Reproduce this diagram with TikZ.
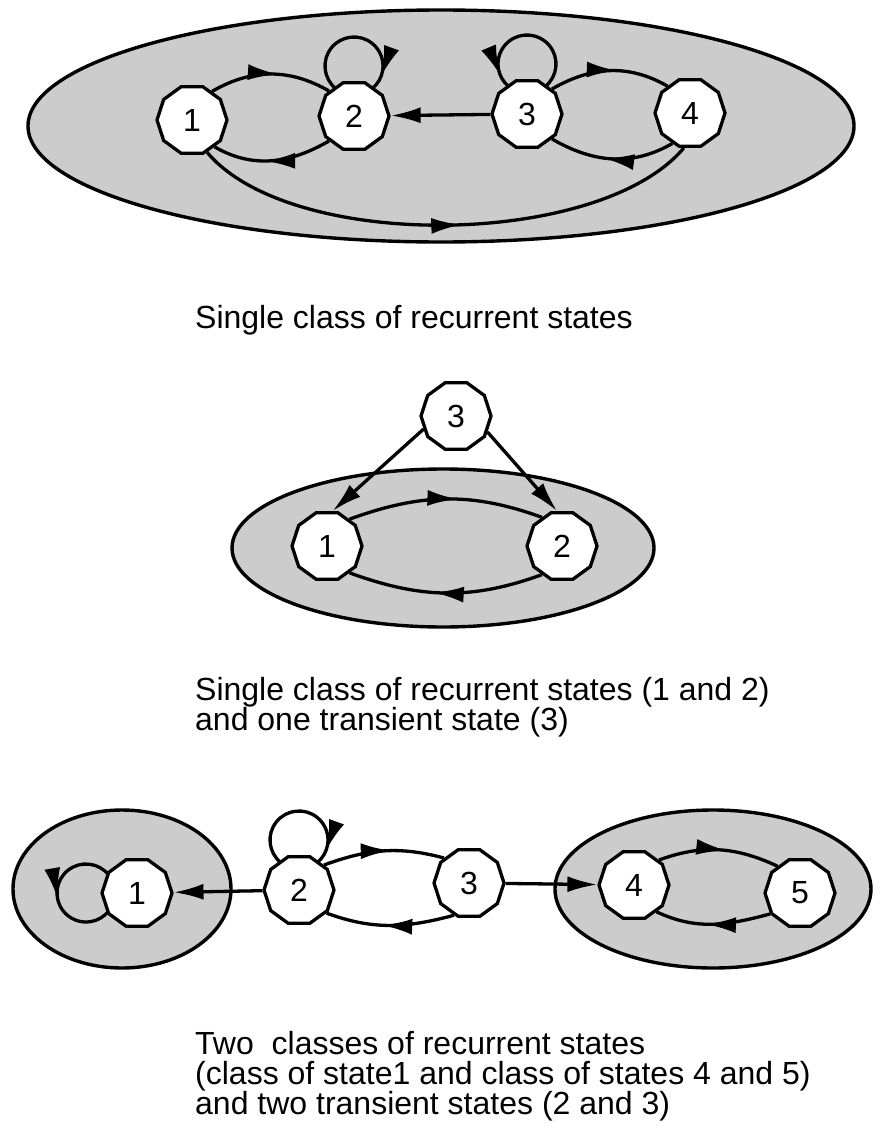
\documentclass[tikz,border=0pt]{standalone}
\usepackage{fontspec}
\setmainfont{Liberation Sans}
\usetikzlibrary{shapes,arrows.meta,positioning,calc,decorations.markings}

\begin{document}
\begin{tikzpicture}[x=1pt,y=1pt,
    stnode/.style={regular polygon, regular polygon sides=10, draw, line width=3.3pt,
        fill=white, minimum size=70pt, inner sep=0pt, font=\fontsize{32}{32}\selectfont},
    cls/.style={draw, line width=3.4pt, fill=black!20},
    trans/.style={line width=3.3pt},
    tip/.style={-{Latex[length=30pt,width=16pt]}},
    midarr/.style={postaction={decorate}, decoration={markings,
        mark=at position #1 with {\arrow{Latex[length=30pt,width=16pt]}}}},
    midarr/.default=0.56,
    caption/.style={anchor=base west, align=left, inner sep=0pt, font=\fontsize{32}{30}\selectfont}]
    \useasboundingbox (0,0) rectangle (894,-1132);

    % Single class of recurrent states
    \draw[cls] (441,-126) ellipse[x radius=413, y radius=116];
    \node[stnode] (a1) at (192,-120) {1};
    \node[stnode] (a2) at (354,-116) {2};
    \node[stnode] (a3) at (527,-114) {3};
    \node[stnode] (a4) at (690,-113) {4};
    \draw[trans,midarr] (a1.55) to[out=30,in=150] (a2.135);
    \draw[trans,midarr] (a2.225) to[out=210,in=-30] (a1.-50);
    \draw[trans,midarr] (a3.45) to[out=30,in=150] (a4.130);
    \draw[trans,midarr] (a4.-120) to[out=210,in=-30] (a3.-45);
    \draw[trans,midarr=0.53] (a1.-65) to[out=-50,in=-130,looseness=0.7] (a4.-100);
    \draw[trans,tip] (a3) -- (a2);
    \draw[trans,midarr=0.89] ([yshift=50]a2.center) ++(231:29) arc[start angle=231,end angle=-51,radius=29];
    \draw[trans,midarr=0.90] ([yshift=50]a3.center) ++(-51:29) arc[start angle=-51,end angle=231,radius=29];
    \node[caption] (cap1) at (195,-328) {Single class of recurrent states};

    % one transient state
    \draw[cls] (443,-548) ellipse[x radius=211, y radius=79];
    \node[stnode] (b1) at (327,-546) {1};
    \node[stnode] (b2) at (562,-546) {2};
    \node[stnode] (b3) at (456,-416) {3};
    \draw[trans,tip] (b3.202) -- (b1.81);
    \draw[trans,tip] (b3.-27) -- (b2.98);
    \draw[trans,midarr] (b1.50) to[out=20,in=160] (b2.125);
    \draw[trans,midarr] (b2.-125) to[out=200,in=-20] (b1.-50);
    \node[caption] (cap2) at (195,-730) {Single class of recurrent states (1 and 2)\\and one transient state (3)};

    % two classes, two transient states
    \draw[cls] (122,-889) ellipse[x radius=109, y radius=79];
    \draw[cls] (713,-889) ellipse[x radius=158, y radius=79];
    \node[stnode] (c1) at (137,-893) {1};
    \node[stnode] (c2) at (299,-890) {2};
    \node[stnode] (c3) at (469,-883) {3};
    \node[stnode] (c4) at (634,-885) {4};
    \node[stnode] (c5) at (800,-893) {5};
    \draw[trans,tip] (c2) -- (c1);
    \draw[trans,tip] (c3) -- (c4);
    \draw[trans,midarr] (c2.45) to[out=20,in=165] (c3.135);
    \draw[trans,midarr] (c3.-115) to[out=195,in=-20] (c2.-40);
    \draw[trans,midarr] (c4.45) to[out=20,in=155] (c5.130);
    \draw[trans,midarr] (c5.215) to[out=195,in=-25] (c4.-50);
    \draw[trans,midarr=0.89] ([yshift=50]c2.center) ++(231:29) arc[start angle=231,end angle=-51,radius=29];
    \draw[trans,midarr=0.535] ([xshift=-51]c1.center) ++(39:29) arc[start angle=39,end angle=321,radius=29];
    \node[caption] (cap3) at (195,-1114) {Two\ \ classes of recurrent states\\(class of state1 and class of states 4 and 5)\\and two transient states (2 and 3)};
\end{tikzpicture}
\end{document}
